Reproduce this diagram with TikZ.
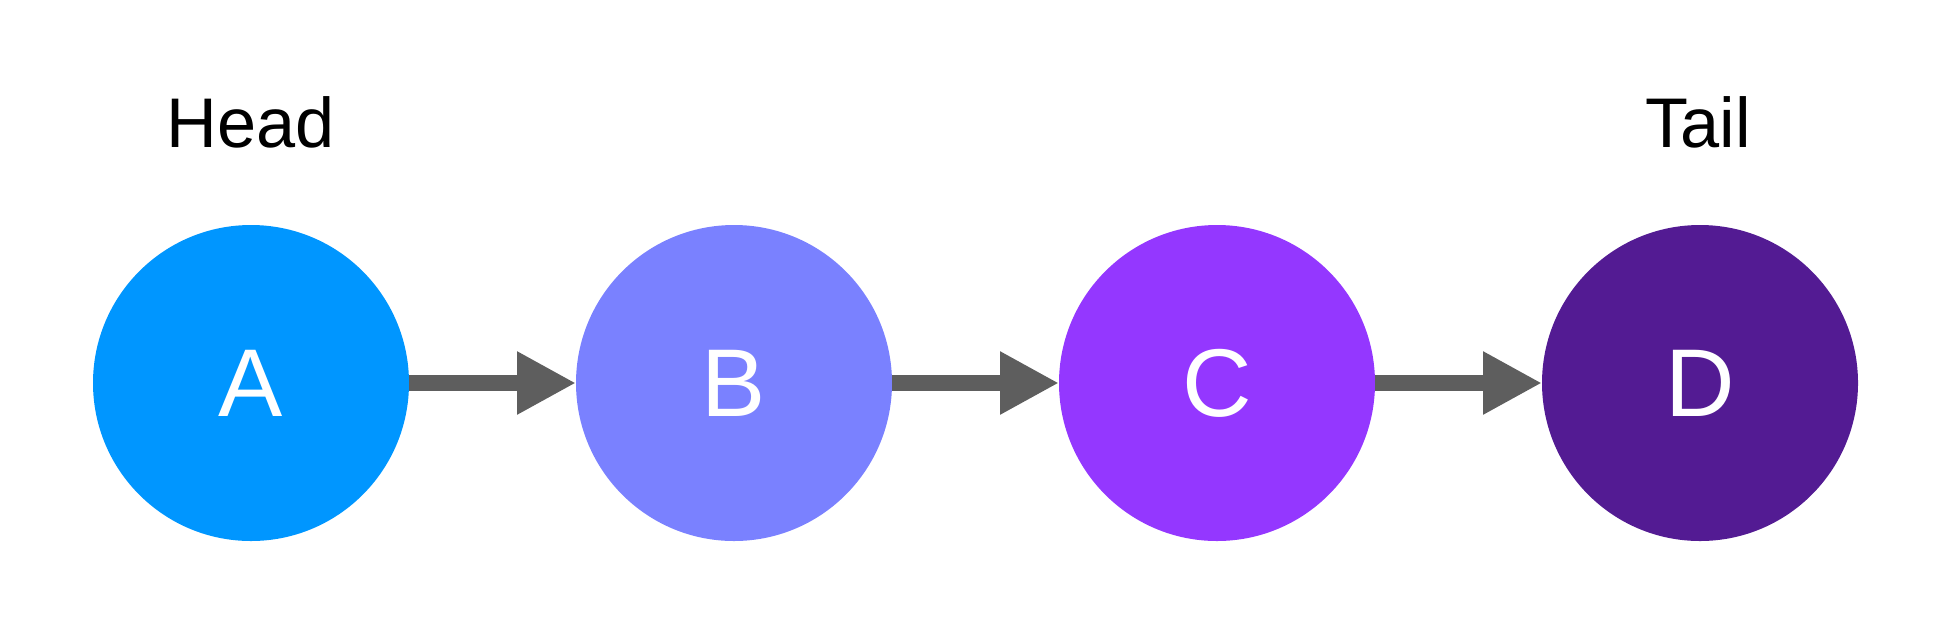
\documentclass[tikz,border=0pt]{standalone}
\usepackage{fontspec}
\setmainfont{Liberation Sans}
\usetikzlibrary{arrows.meta}

\definecolor{aqua}{HTML}{0096FF}
\definecolor{orchid}{HTML}{7A81FF}
\definecolor{grape}{HTML}{9437FF}
\definecolor{eggplant}{HTML}{531B93}
\definecolor{iron}{HTML}{5E5E5E}

\tikzset{
  item/.style={circle,minimum size=3.16cm,inner sep=0pt,outer sep=0pt,text=white,font=\fontsize{27.4}{30}\selectfont},
  link/.style={iron,line width=1.57mm,-{Triangle[length=5.9mm,width=5.9mm]}},
  tag/.style={anchor=base,font=\fontsize{20}{24}\selectfont}
}

\begin{document}
\begin{tikzpicture}

\useasboundingbox (0,0) rectangle (19.58,6.34);

\node[item,fill=aqua] (A) at (2.51,2.51) {A};
\node[item,fill=orchid] (B) at (7.34,2.51) {B};
\node[item,fill=grape] (C) at (12.17,2.51) {C};
\node[item,fill=eggplant] (D) at (17.00,2.51) {D};

\node[tag] (head) at (2.51,4.863) {Head};
\node[tag] (tail) at (16.98,4.863) {Tail};

\draw[link] (A)--(B);
\draw[link] (B)--(C);
\draw[link] (C)--(D);

\end{tikzpicture}
\end{document}
